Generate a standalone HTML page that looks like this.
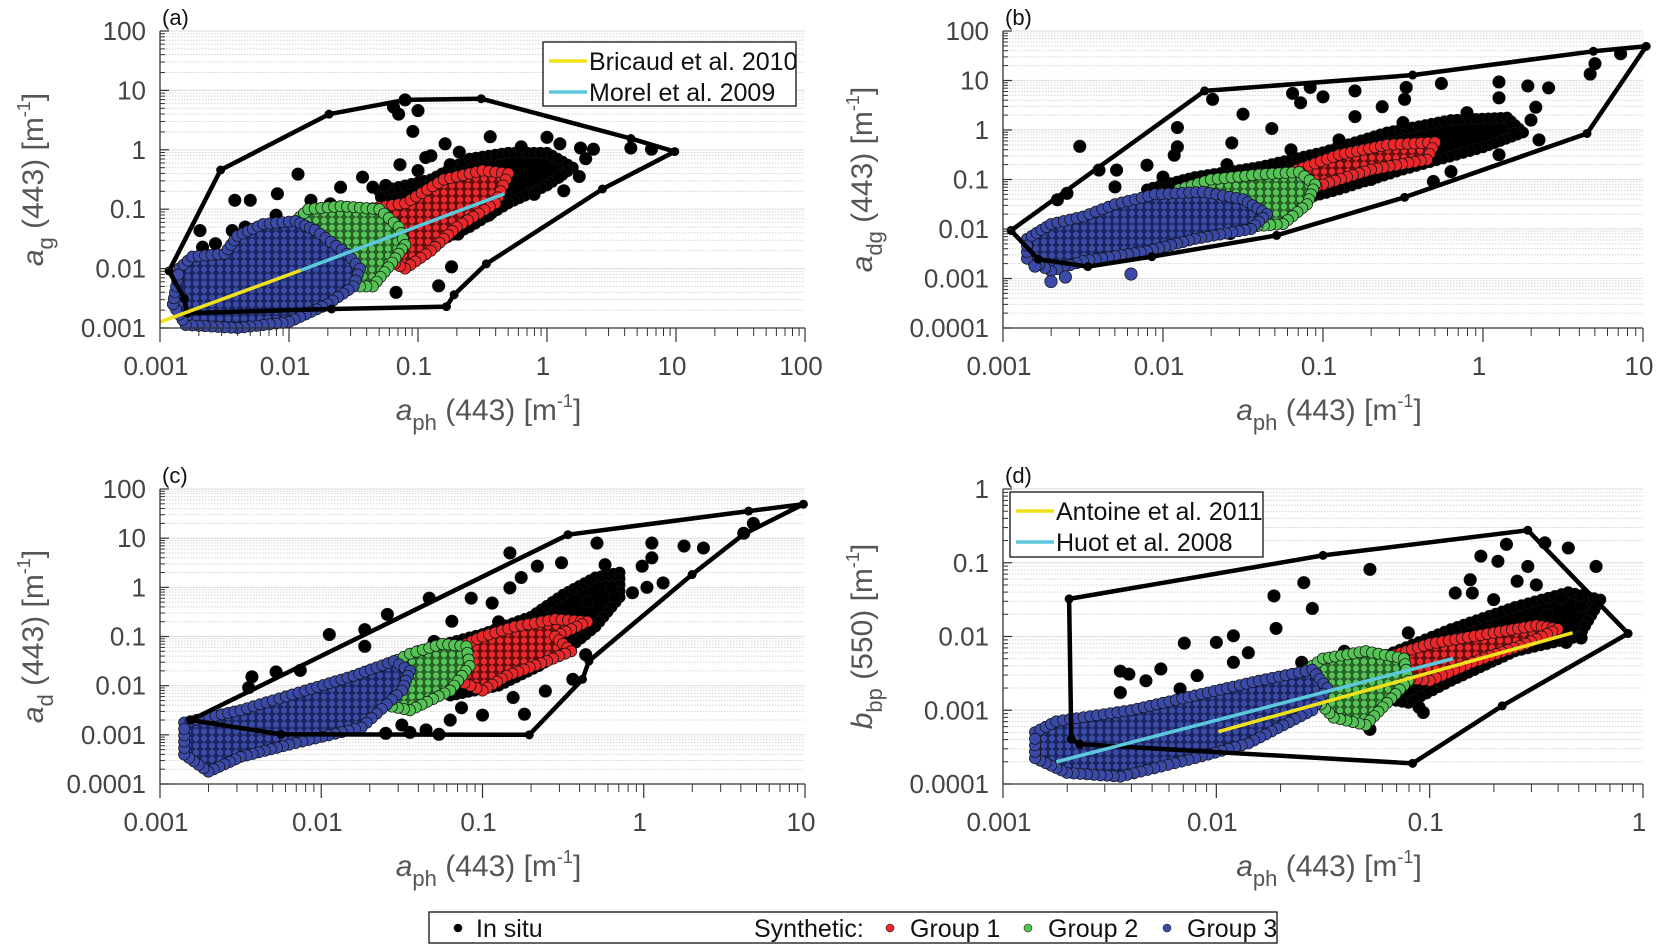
<!DOCTYPE html>
<html><head><meta charset="utf-8"><style>
html,body{margin:0;padding:0;background:#fff;}
svg{display:block;font-family:"Liberation Sans Narrow","Liberation Sans",sans-serif;}
</style></head><body>
<svg id="fig" width="1656" height="944" viewBox="0 0 1656 944" xmlns="http://www.w3.org/2000/svg">
<defs>
<pattern id="pBlue" patternUnits="userSpaceOnUse" width="8" height="7"><rect width="8" height="7" fill="#1c2566"/><circle cx="4" cy="3.5" r="3.6" fill="#3a4aa6" stroke="#15204f" stroke-width="0.8"/></pattern>
<pattern id="pGreen" patternUnits="userSpaceOnUse" width="8" height="7"><rect width="8" height="7" fill="#2b6a2b"/><circle cx="4" cy="3.5" r="3.6" fill="#55c255" stroke="#1f4a1f" stroke-width="0.8"/></pattern>
<pattern id="pRed" patternUnits="userSpaceOnUse" width="8" height="7"><rect width="8" height="7" fill="#7a0c0c"/><circle cx="4" cy="3.5" r="3.6" fill="#e8282b" stroke="#4a0a0a" stroke-width="0.8"/></pattern>
</defs>
</svg>
<script>
// ---- data (log10 values) ----
// Panel a
const hullA = [[-2.93,-2.04],[-2.53,-0.34],[-1.69,0.60],[-1.10,0.84],[-0.51,0.86],[0.65,0.19],[0.99,-0.03],[0.43,-0.66],[-0.47,-1.92],[-0.72,-2.44],[-0.78,-2.64],[-1.67,-2.68],[-2.79,-2.75],[-2.81,-2.51]];
const blueA = [[-2.85,-2.0],[-2.75,-1.8],[-2.5,-1.75],[-2.4,-1.45],[-2.2,-1.25],[-1.95,-1.2],[-1.8,-1.35],[-1.55,-1.75],[-1.45,-2.0],[-1.5,-2.3],[-1.7,-2.6],[-2.0,-2.9],[-2.4,-3.0],[-2.8,-2.95],[-2.9,-2.6]];
const greenA = [[-1.95,-1.2],[-1.85,-1.0],[-1.6,-0.95],[-1.3,-1.0],[-1.15,-1.3],[-1.1,-1.6],[-1.2,-1.9],[-1.35,-2.3],[-1.55,-2.3],[-1.65,-2.0],[-1.8,-1.5]];
const redA = [[-1.4,-1.0],[-1.1,-0.9],[-0.8,-0.5],[-0.5,-0.35],[-0.3,-0.4],[-0.4,-0.9],[-0.7,-1.3],[-0.9,-1.7],[-1.1,-2.0],[-1.3,-1.8],[-1.4,-1.4]];
const coreA = [[-1.3,-0.7],[-0.9,-0.5],[-0.6,-0.15],[-0.3,-0.05],[0.0,-0.05],[0.2,-0.3],[0.0,-0.6],[-0.3,-0.9],[-0.6,-1.3],[-0.9,-1.6],[-1.2,-1.5]];
const ptsA = [[-1.10,0.84],[-1.19,0.72],[-1.0,0.66],[-1.15,0.6],[-1.04,0.31],[-0.44,0.22],[0.0,0.21],[0.26,0.03],[0.36,0.01],[0.65,0.03],[0.81,0.01],[-0.79,0.1],[-0.68,-0.04],[-0.9,-0.1],[-1.14,-0.25],[0.13,-0.69],[0.09,-0.46],[-2.69,-1.36],[-2.57,-1.58],[-2.67,-1.64],[-2.42,-0.85],[-2.3,-0.85],[-2.44,-1.36],[-2.34,-1.3],[-2.09,-0.74],[-1.93,-0.41],[-1.83,-0.85],[-1.68,-0.91],[-1.6,-0.63],[-1.43,-0.46],[-1.35,-0.63],[-1.17,-0.85],[-0.98,-1.75],[-0.84,-2.29],[-1.17,-2.4],[-0.74,-1.97],[-0.94,-0.13],[-0.38,-0.57],[-0.53,-0.97],[-0.69,-1.42],[-1.1,-1.86],[-1.5,-1.0],[-1.25,-0.6],[-1.0,-0.35],[-0.75,-0.25],[-0.2,0.05],[0.1,0.1],[0.3,-0.15],[0.25,-0.45],[-0.1,-0.75],[-0.45,-1.1],[-0.8,-1.45],[-2.1,-1.1],[-1.75,-1.1]];
const lineA1 = [[-3,-2.9],[-1.91,-2.03]];
const lineA2 = [[-1.91,-2.03],[-0.33,-0.74]];
// Panel b
const hullB = [[-2.95,-2.03],[-2.78,-2.61],[-2.47,-2.76],[-2.07,-2.56],[-1.29,-2.13],[-0.49,-1.36],[0.65,-0.07],[1.02,1.69],[0.69,1.59],[-0.44,1.11],[-1.74,0.79]];
const blueB = [[-2.85,-2.2],[-2.7,-1.9],[-2.5,-1.75],[-2.3,-1.5],[-2.05,-1.3],[-1.75,-1.25],[-1.5,-1.4],[-1.35,-1.7],[-1.45,-2.0],[-1.8,-2.2],[-2.1,-2.45],[-2.5,-2.65],[-2.7,-2.85],[-2.85,-2.6]];
const greenB = [[-1.9,-1.2],[-1.7,-1.0],[-1.4,-0.9],[-1.15,-0.85],[-1.05,-1.1],[-1.1,-1.5],[-1.25,-1.9],[-1.45,-1.95],[-1.6,-1.6],[-1.85,-1.4]];
const redB = [[-1.45,-0.95],[-1.2,-0.85],[-0.9,-0.5],[-0.6,-0.3],[-0.3,-0.25],[-0.35,-0.6],[-0.7,-0.8],[-1.0,-1.1],[-1.2,-1.3],[-1.4,-1.2]];
const coreB = [[-2.1,-1.2],[-1.8,-0.95],[-1.4,-0.75],[-1.0,-0.45],[-0.6,-0.05],[-0.2,0.2],[0.15,0.25],[0.25,-0.05],[0.0,-0.35],[-0.5,-0.8],[-0.9,-1.2],[-1.3,-1.55],[-1.7,-1.55]];
const ptsB = [[-2.52,-0.33],[-1.91,0.05],[-1.91,-0.34],[-1.93,-0.51],[-2.29,-0.81],[-2.1,-0.71],[-2.4,-0.81],[-2.66,-1.41],[-2.6,-1.28],[-1.69,0.62],[-1.5,0.32],[-1.57,-0.26],[-1.19,0.74],[-1.08,0.86],[-1.0,0.67],[-1.14,0.55],[-0.8,0.79],[-0.48,0.86],[-0.49,0.62],[-0.26,0.94],[-0.8,0.27],[-0.63,0.47],[0.1,0.97],[0.28,0.89],[0.41,0.85],[0.1,0.65],[0.33,0.46],[0.19,0.06],[0.2,-0.07],[0.7,1.34],[0.67,1.13],[0.86,1.54],[-1.32,0.03],[-0.2,-0.84],[-0.31,-1.04],[-1.58,-2.09],[-2.3,-1.15],[-2.0,-0.95],[-1.6,-0.7],[-1.2,-0.4],[-0.9,-0.2],[-0.5,0.15],[-0.1,0.35],[0.3,0.2],[0.35,-0.2],[0.1,-0.5],[-0.7,-1.0],[-1.1,-1.4]];
const blueOutB = [[-2.2,-2.91],[-2.7,-3.06],[-2.61,-2.97],[-2.8,-2.75]];
// Panel c
const hullC = [[-2.81,-2.7],[-2.25,-2.99],[-0.71,-3.0],[-0.38,-1.87],[-0.34,-1.5],[0.3,0.26],[0.62,1.08],[0.99,1.69],[0.65,1.55],[-0.47,1.07]];
const blueC = [[-2.85,-2.75],[-2.5,-2.5],[-2.1,-2.1],[-1.8,-1.8],[-1.55,-1.5],[-1.45,-1.7],[-1.5,-2.1],[-1.75,-2.85],[-2.2,-3.2],[-2.5,-3.45],[-2.7,-3.75],[-2.85,-3.4]];
const greenC = [[-1.6,-1.6],[-1.45,-1.35],[-1.25,-1.15],[-1.1,-1.2],[-1.08,-1.6],[-1.2,-2.1],[-1.45,-2.5],[-1.6,-2.4],[-1.55,-2.0]];
const redC = [[-1.2,-1.3],[-1.0,-1.0],[-0.8,-0.8],[-0.55,-0.65],[-0.35,-0.7],[-0.55,-1.0],[-0.45,-1.3],[-0.6,-1.5],[-0.85,-1.8],[-1.0,-2.1],[-1.15,-1.9]];
const coreC = [[-1.4,-1.3],[-1.0,-0.95],[-0.7,-0.6],[-0.5,-0.15],[-0.3,0.2],[-0.15,0.3],[-0.15,-0.2],[-0.3,-0.8],[-0.45,-1.2],[-0.65,-1.6],[-0.9,-2.0],[-1.2,-2.2]];
const ptsC = [[-2.43,-1.82],[-2.28,-1.72],[-2.13,-1.69],[-2.45,-2.04],[-1.95,-0.96],[-1.73,-0.86],[-1.59,-0.55],[-1.73,-1.2],[-1.33,-0.22],[-1.07,-0.22],[-0.94,-0.32],[-1.19,-0.69],[-0.83,0.7],[-0.66,0.43],[-0.51,0.5],[-0.76,0.2],[-0.83,-0.01],[-0.29,0.9],[-0.24,0.46],[0.05,0.9],[0.05,0.6],[-0.01,0.43],[0.25,0.84],[0.37,0.8],[0.12,0.09],[0.02,0.0],[-0.07,-0.11],[-0.18,-0.18],[-0.61,-2.11],[-0.74,-2.58],[-0.81,-2.24],[-1.13,-2.45],[-1.27,-2.99],[-1.45,-2.95],[-1.6,-2.97],[-1.35,-2.9],[-0.44,-1.87],[-0.36,-1.37],[0.68,1.3],[0.62,1.1],[-1.5,-2.8],[-1.2,-2.7],[-1.0,-2.6],[-0.5,-0.6],[-0.35,-0.3],[-0.2,0.0],[-1.3,-1.1],[-0.9,-0.7]];
// Panel d
const hullD = [[-2.69,-1.49],[-2.68,-3.39],[-2.64,-3.46],[-1.08,-3.72],[-0.66,-2.94],[-0.07,-1.96],[-0.54,-0.56],[-1.5,-0.9]];
const blueD = [[-2.85,-3.3],[-2.75,-3.15],[-2.4,-3.0],[-2.1,-2.8],[-1.8,-2.6],[-1.55,-2.45],[-1.48,-2.7],[-1.55,-3.0],[-1.85,-3.45],[-2.1,-3.65],[-2.45,-3.9],[-2.7,-3.85],[-2.85,-3.65]];
const greenD = [[-1.6,-2.5],[-1.5,-2.3],[-1.3,-2.2],[-1.12,-2.3],[-1.1,-2.6],[-1.2,-2.9],[-1.3,-3.2],[-1.45,-3.1],[-1.55,-2.8]];
const redD = [[-1.22,-2.3],[-1.0,-2.1],[-0.7,-1.95],[-0.5,-1.85],[-0.4,-1.9],[-0.55,-2.1],[-0.8,-2.35],[-1.0,-2.6],[-1.15,-2.55]];
const coreD = [[-1.5,-2.5],[-1.2,-2.25],[-0.9,-1.9],[-0.6,-1.6],[-0.35,-1.4],[-0.2,-1.5],[-0.3,-2.0],[-0.6,-2.2],[-0.9,-2.6],[-1.1,-2.9],[-1.3,-2.8]];
const ptsD = [[-1.28,-1.09],[-1.59,-1.27],[-1.73,-1.45],[-1.55,-1.62],[-1.72,-1.89],[-1.92,-1.99],[-2.0,-2.08],[-2.15,-2.09],[-1.92,-2.35],[-1.85,-2.22],[-2.45,-2.47],[-2.41,-2.51],[-2.33,-2.6],[-2.26,-2.44],[-2.45,-2.76],[-2.17,-2.71],[-2.09,-2.53],[-0.76,-0.91],[-0.64,-0.75],[-0.68,-0.98],[-0.59,-1.25],[-0.54,-1.05],[-0.46,-0.73],[-0.35,-0.8],[-0.22,-1.05],[-0.81,-1.23],[-0.88,-1.41],[-0.8,-1.41],[-0.38,-1.48],[-0.29,-1.59],[-0.29,-2.02],[-0.36,-2.08],[-1.05,-2.96],[-1.03,-3.03],[-1.28,-3.26],[-1.13,-2.4],[-1.6,-2.35],[-1.4,-2.2],[-1.1,-1.95],[-0.7,-1.5],[-0.5,-1.3],[-0.45,-1.7],[-0.7,-2.3]];
const lineD1 = [[-1.99,-3.29],[-0.33,-1.95]];
const lineD2 = [[-2.75,-3.7],[-0.89,-2.3]];

const yLabelsA = ["0.001","0.01","0.1","1","10","100"];
const xLabelsA = ["0.001","0.01","0.1","1","10","100"];
const yLabelsB = ["0.0001","0.001","0.01","0.1","1","10","100"];
const xLabelsB = ["0.001","0.01","0.1","1","10"];
const yLabelsD = ["0.0001","0.001","0.01","0.1","1"];
const xLabelsD = ["0.001","0.01","0.1","1"];

const NS = "http://www.w3.org/2000/svg";
const svg = document.getElementById('fig');
function mk(tag, attrs, parent){ const e=document.createElementNS(NS,tag); for(const k in attrs) e.setAttribute(k,attrs[k]); (parent||svg).appendChild(e); return e; }

function panel(cfg){
  const g = mk('g',{});
  
  
  const {x0,x1,y0,y1,xmin,xmax,ymin,ymax} = cfg;
  const sx = v => x0 + (v - xmin)/(xmax - xmin)*(x1 - x0);
  const sy = v => y1 - (v - ymin)/(ymax - ymin)*(y1 - y0);
  for(let d=ymin; d<ymax; d++){
    for(let m=2;m<=9;m++){
      const yy=sy(d+Math.log10(m));
      mk('line',{x1:x0,x2:x1,y1:yy,y2:yy,stroke:'#d4d4d4','stroke-width':1,'stroke-dasharray':'1.5,1.5'},g);
    }
  }
  for(let d=ymin+1; d<=ymax; d++){
    const yy=sy(d); mk('line',{x1:x0,x2:x1,y1:yy,y2:yy,stroke:'#e2e2e2','stroke-width':1.2},g);
  }
  const pts = arr => arr.map(p=>sx(p[0]).toFixed(1)+','+sy(p[1]).toFixed(1)).join(' ');
  const blob = (arr,fill,dotFill,edge,name) => {
    const bg = mk('g',{},g);
    
    
    mk('polygon',{points:pts(arr),fill:fill,stroke:edge,'stroke-width':6,'stroke-linejoin':'round'},bg);
    for(let i=0;i<arr.length;i++){
      const a=arr[i], b=arr[(i+1)%arr.length];
      const ax=sx(a[0]), ay=sy(a[1]), bx=sx(b[0]), by=sy(b[1]);
      const n=Math.max(1,Math.ceil(Math.hypot(bx-ax,by-ay)/7));
      for(let k=0;k<n;k++){
        const t=k/n;
        mk('circle',{cx:ax+(bx-ax)*t,cy:ay+(by-ay)*t,r:5.6,fill:dotFill,stroke:'#111','stroke-width':0.7},bg);
      }
    }
  };
  const dots = (arr,fill,name) => {
    arr.forEach(p=>{
      const c = mk('circle',{cx:sx(p[0]),cy:sy(p[1]),r:6.2,fill:fill,stroke:'#111','stroke-width':0.7},g);
      
      
    });
  };
  blob(cfg.core,'#000','#000','#000','in-situ-core');
  dots(cfg.pts,'#000','in-situ-point');
  blob(cfg.red,'url(#pRed)','#e8282b','#8a1010','group1-cloud');
  blob(cfg.green,'url(#pGreen)','#55c255','#2b6a2b','group2-cloud');
  blob(cfg.blue,'url(#pBlue)','#3a4aa6','#1c2566','group3-cloud');
  if(cfg.blueOut) dots(cfg.blueOut,'#3a4aa6','group3-point');
  const h = mk('polygon',{points:pts(cfg.hull),fill:'none',stroke:'#000','stroke-width':4.5,'stroke-linejoin':'round'},g);
  
  
  cfg.hull.forEach(p=>mk('circle',{cx:sx(p[0]),cy:sy(p[1]),r:4.5,fill:'#000'},g));
  (cfg.lines||[]).forEach(L=>{
    const l = mk('line',{x1:sx(L.d[0][0]),y1:sy(L.d[0][1]),x2:sx(L.d[1][0]),y2:sy(L.d[1][1]),stroke:L.c,'stroke-width':3.5},g);
    
    
  });
  mk('line',{x1:x0,x2:x0,y1:y0,y2:y1,stroke:'#333','stroke-width':1.3},g);
  mk('line',{x1:x0,x2:x1,y1:y1,y2:y1,stroke:'#333','stroke-width':1.3},g);
  for(let d=ymin; d<=ymax; d++){
    mk('line',{x1:x0,x2:x0+9,y1:sy(d),y2:sy(d),stroke:'#333','stroke-width':1.2},g);
    if(d<ymax) for(let m=2;m<=9;m++){ const yy=sy(d+Math.log10(m)); mk('line',{x1:x0,x2:x0+5,y1:yy,y2:yy,stroke:'#333','stroke-width':1},g); }
    const t = mk('text',{x:x0-14,y:sy(d)+9,'text-anchor':'end','font-size':26,fill:'#444'},g);
    t.textContent = cfg.yl[d-ymin];
    
    
  }
  for(let d=xmin; d<=xmax; d++){
    mk('line',{x1:sx(d),x2:sx(d),y1:y1,y2:y1+14,stroke:'#333','stroke-width':1.2},g);
    if(d<xmax) for(let m=2;m<=9;m++){ const xx=sx(d+Math.log10(m)); mk('line',{x1:xx,x2:xx,y1:y1,y2:y1+8,stroke:'#333','stroke-width':1},g); }
    const t = mk('text',{x:sx(d)-4,y:y1+47,'text-anchor':'middle','font-size':26,fill:'#444'},g);
    t.textContent = cfg.xl[d-xmin];
    
    
  }
  const pl = mk('text',{x:x0+2,y:y0-6,'font-size':22,fill:'#111'},g);
  pl.textContent='('+cfg.id+')';
  
  
  const xt = mk('text',{x:(x0+x1)/2+6,y:y1+92,'text-anchor':'middle','font-size':30,fill:'#555'},g);
  xt.innerHTML = '<tspan font-style="italic">a</tspan><tspan font-size="22" dy="10">ph</tspan><tspan dy="-10"> (443) [m</tspan><tspan font-size="18" dy="-13">-1</tspan><tspan dy="13">]</tspan>';
  
  
  const yt = mk('text',{x:0,y:0,'text-anchor':'middle','font-size':30,fill:'#555',transform:`translate(${cfg.ytx},${(y0+y1)/2}) rotate(-90)`},g);
  yt.innerHTML = cfg.ytitle;
  
  
}

function yTitle(v,sub,wl){ return `<tspan font-style="italic">${v}</tspan><tspan font-size="22" dy="10">${sub}</tspan><tspan dy="-10"> (${wl}) [m</tspan><tspan font-size="18" dy="-13">-1</tspan><tspan dy="13">]</tspan>`; }

panel({id:'a',x0:160,x1:805,y0:31,y1:328,xmin:-3,xmax:2,ymin:-3,ymax:2,xl:xLabelsA,yl:yLabelsA,ytx:43,
  ytitle:yTitle('a','g','443'),hull:hullA,blue:blueA,green:greenA,red:redA,core:coreA,pts:ptsA,
  lines:[{d:lineA1,c:'#f0e21a',name:'bricaud-line'},{d:lineA2,c:'#5cc8dc',name:'morel-line'}]});
panel({id:'b',x0:1003,x1:1643,y0:31,y1:328,xmin:-3,xmax:1,ymin:-4,ymax:2,xl:xLabelsB,yl:yLabelsB,ytx:872,
  ytitle:yTitle('a','dg','443'),hull:hullB,blue:blueB,green:greenB,red:redB,core:coreB,pts:ptsB,blueOut:blueOutB});
panel({id:'c',x0:160,x1:805,y0:489,y1:784,xmin:-3,xmax:1,ymin:-4,ymax:2,xl:xLabelsB,yl:yLabelsB,ytx:43,
  ytitle:yTitle('a','d','443'),hull:hullC,blue:blueC,green:greenC,red:redC,core:coreC,pts:ptsC});
panel({id:'d',x0:1003,x1:1643,y0:489,y1:784,xmin:-3,xmax:0,ymin:-4,ymax:0,xl:xLabelsD,yl:yLabelsD,ytx:872,
  ytitle:yTitle('b','bp','550'),hull:hullD,blue:blueD,green:greenD,red:redD,core:coreD,pts:ptsD,
  lines:[{d:lineD1,c:'#f0e21a',name:'antoine-line'},{d:lineD2,c:'#5cc8dc',name:'huot-line'}]});

function legend(x,y,w,h,items,name){
  const g = mk('g',{});
  
  
  mk('rect',{x:x,y:y,width:w,height:h,fill:'#fff',stroke:'#111','stroke-width':1.3},g);
  items.forEach((it,i)=>{
    const cy = y+19+i*31;
    mk('line',{x1:x+6,x2:x+44,y1:cy,y2:cy,stroke:it.c,'stroke-width':3.5},g);
    const t = mk('text',{x:x+46,y:cy+9,'font-size':25,fill:'#111'},g);
    t.textContent = it.t;
    
    
  });
}
legend(543,42,253,64,[{c:'#f0e21a',t:'Bricaud et al. 2010'},{c:'#5cc8dc',t:'Morel et al. 2009'}],'legend-a');
legend(1010,492,253,65,[{c:'#f0e21a',t:'Antoine et al. 2011'},{c:'#5cc8dc',t:'Huot et al. 2008'}],'legend-d');

const bl = mk('g',{});


mk('rect',{x:429,y:912,width:848,height:31,fill:'#fff',stroke:'#111','stroke-width':1.3},bl);
const bItems = [{x:458,c:'#000',t:'In situ',tx:476},{x:890,c:'#e8282b',t:'Group 1',tx:910},{x:1028,c:'#55c255',t:'Group 2',tx:1048},{x:1167,c:'#3a4aa6',t:'Group 3',tx:1187}];
bItems.forEach(b=>{
  mk('circle',{cx:b.x,cy:928,r:4,fill:b.c,stroke:'#222','stroke-width':0.6},bl);
  const t = mk('text',{x:b.tx,y:937,'font-size':25,fill:'#111'},bl);
  t.textContent=b.t;
  
  
});
const syn = mk('text',{x:754,y:937,'font-size':25,fill:'#111'},bl);
syn.textContent='Synthetic:';


</script>
</body></html>
